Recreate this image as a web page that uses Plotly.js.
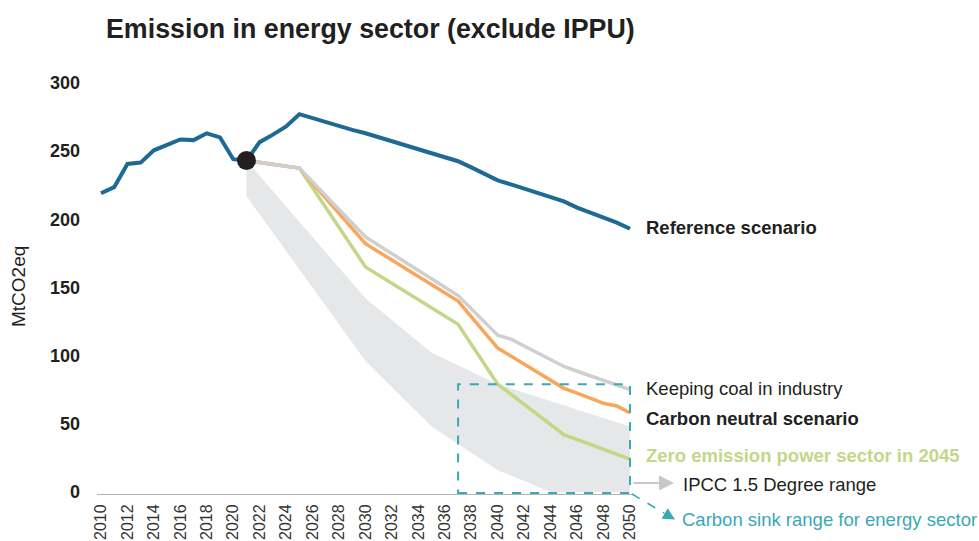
<!DOCTYPE html>
<html>
<head>
<meta charset="utf-8">
<script src="https://cdn.plot.ly/plotly-3.0.1.min.js"></script>
<style>html,body{margin:0;padding:0;background:#fff;}#chart{width:979px;height:541px;}</style>
</head>
<body>
<div id="chart"></div>
<script>
// ---------- DATA ----------
const refYears = [2010,2011,2012,2013,2014,2015,2016,2017,2018,2019,2020,2021,2022,2023,2024,2025,2026,2027,2028,2029,2030,2031,2032,2033,2034,2035,2036,2037,2038,2039,2040,2041,2042,2043,2044,2045,2046,2047,2048,2049,2050];
const refValues = [219,223.5,240.5,241.5,250.5,254.5,258.5,258,263,260,244,243,256.5,262,268,277,274,271,268,265.5,263,260,257,254,251,248.5,245.5,242.5,238,233,228.5,225.5,222.5,219.5,216.5,213,208.5,205,201.5,197.5,193];

const coalYears = [2021,2025,2030,2037,2040,2041,2042,2043,2044,2045,2046,2047,2048,2049,2050];
const coalValues = [243,237.5,187,144,115,112,107,102,97.5,92,88.5,85,82,78.5,75];

const neutralYears = [2021,2025,2030,2037,2040,2045,2046,2047,2048,2049,2050];
const neutralValues = [243,237.5,182,140,105.5,76,72.5,69,65,63,58];

const zeroYears = [2021,2025,2030,2037,2040,2045,2050];
const zeroValues = [243,237.5,165,123,79,42,24];

const ipccUpperYears = [2021,2030,2035,2040,2050];
const ipccUpperValues = [243,142,102,79,48];
const ipccLowerYears = [2021,2030,2035,2040,2044,2050];
const ipccLowerValues = [217,96,48,16,0,0];

const baseYear = [2021];
const baseValue = [243];

const sinkYears = [2037,2050];
const sinkValues = [0,79];

const labels = {
  ref: "Reference scenario",
  coal: "Keeping coal in industry",
  neutral: "Carbon neutral scenario",
  zero: "Zero emission power sector in 2045",
  ipcc: "IPCC 1.5 Degree range",
  sink: "Carbon sink range for energy sector"
};
const chartTitle = "Emission in energy sector (exclude IPPU)";
const yTitle = "MtCO2eq";

// ---------- STYLE ----------
const FONT = "Liberation Sans, Arial, Helvetica, sans-serif";
const DARK = "#231f20";
const BLUE = "#1f6a94";
const ORANGE = "#f8a65c";
const GREEN = "#c3d789";
const GREY = "#cfcfcf";
const BAND = "#e6e7e8";
const TEAL = "#39a9b3";

const L = 97, R = 347, T = 76, B = 47, W = 979, H = 541;
const PW = W - L - R, PH = H - T - B;
const px = x => (x - L) / PW;          // page px -> paper x
const py = y => (T + PH - y) / PH;     // page px -> paper y

const bandX = ipccUpperYears.concat(ipccLowerYears.slice().reverse());
const bandY = ipccUpperValues.concat(ipccLowerValues.slice().reverse());

const traces = [
  {x: bandX, y: bandY, type: 'scatter', mode: 'lines', fill: 'toself', fillcolor: BAND, line: {width: 0, color: BAND}, hoverinfo: 'skip'},
  {x: zeroYears, y: zeroValues, type: 'scatter', mode: 'lines', line: {color: GREEN, width: 3.5}},
  {x: neutralYears, y: neutralValues, type: 'scatter', mode: 'lines', line: {color: ORANGE, width: 3.5}},
  {x: coalYears, y: coalValues, type: 'scatter', mode: 'lines', line: {color: GREY, width: 3.5}},
  {x: refYears, y: refValues, type: 'scatter', mode: 'lines', line: {color: BLUE, width: 4}},
  {x: baseYear, y: baseValue, type: 'scatter', mode: 'markers', marker: {color: DARK, size: 19}}
];

const txt = (text, x, y, opts) => Object.assign({
  text: text, xref: 'paper', yref: 'paper', x: x, y: y, xanchor: 'left', yanchor: 'middle',
  showarrow: false, font: {family: FONT, size: 18.5, color: DARK}
}, opts || {});

const annotations = [
  txt("<b>" + labels.ref + "</b>", px(644), py(227)),
  txt(labels.coal, px(644), py(388)),
  txt("<b>" + labels.neutral + "</b>", px(644), py(418)),
  txt("<b>" + labels.zero + "</b>", px(644), py(455), {font: {family: FONT, size: 18.5, color: GREEN}}),
  txt(labels.ipcc, px(681), py(484)),
  txt(labels.sink, px(680), py(519), {font: {family: FONT, size: 18.5, color: TEAL}}),
  // y title
  {text: yTitle, xref: 'paper', yref: 'paper', x: px(18), y: py(287), xanchor: 'center', yanchor: 'middle',
   textangle: -90, showarrow: false, font: {family: FONT, size: 19, color: DARK}},
  // grey arrow
  {text: '', xref: 'paper', yref: 'paper', x: px(674), y: py(483), ax: -42, ay: 0,
   showarrow: true, arrowhead: 2, arrowsize: 1.5, arrowwidth: 2, arrowcolor: '#c8c8c8'},
  // teal arrow head
  {text: '', xref: 'paper', yref: 'paper', x: px(675), y: py(519.5), ax: -12, ay: -7,
   showarrow: true, arrowhead: 2, arrowsize: 1.5, arrowwidth: 1.6, arrowcolor: TEAL}
];

const shapes = [
  {type: 'rect', xref: 'x', yref: 'y', x0: sinkYears[0], x1: sinkYears[1], y0: sinkValues[0] - 0.8, y1: sinkValues[1],
   line: {color: TEAL, width: 2, dash: 'dash'}, fillcolor: 'rgba(0,0,0,0)', layer: 'above'},
  {type: 'line', xref: 'paper', yref: 'paper', x0: px(632), y0: py(494), x1: px(664), y1: py(513),
   line: {color: TEAL, width: 1.6, dash: 'dash'}}
];

const layout = {
  width: W, height: H,
  margin: {l: L, r: R, t: T, b: B, pad: 0},
  paper_bgcolor: '#fff', plot_bgcolor: '#fff',
  showlegend: false,
  title: {text: "<b>" + chartTitle + "</b>", x: px(106), xref: 'paper', xanchor: 'left',
          y: 1 - 29 / H, yref: 'container', yanchor: 'middle',
          font: {family: FONT, size: 26.8, color: DARK}},
  xaxis: {range: [2009.7, 2050.15], tickmode: 'linear', tick0: 2010, dtick: 2, tickangle: -90,
          showgrid: false, zeroline: false, showline: true, linecolor: '#b3b3b3', linewidth: 1,
          ticks: '', ticklabelstandoff: 3,
          tickfont: {family: FONT, size: 16, color: '#333333'}, fixedrange: true},
  yaxis: {range: [-1.5, 305], tickmode: 'linear', tick0: 0, dtick: 50, showgrid: false, zeroline: false,
          showline: false, ticks: '', ticklabelstandoff: 16,
          tickfont: {family: FONT, size: 18, color: DARK, weight: 'bold'}, fixedrange: true},
  annotations: annotations,
  shapes: shapes
};

Plotly.newPlot('chart', traces, layout, {displayModeBar: false, staticPlot: true});
</script>
</body>
</html>
